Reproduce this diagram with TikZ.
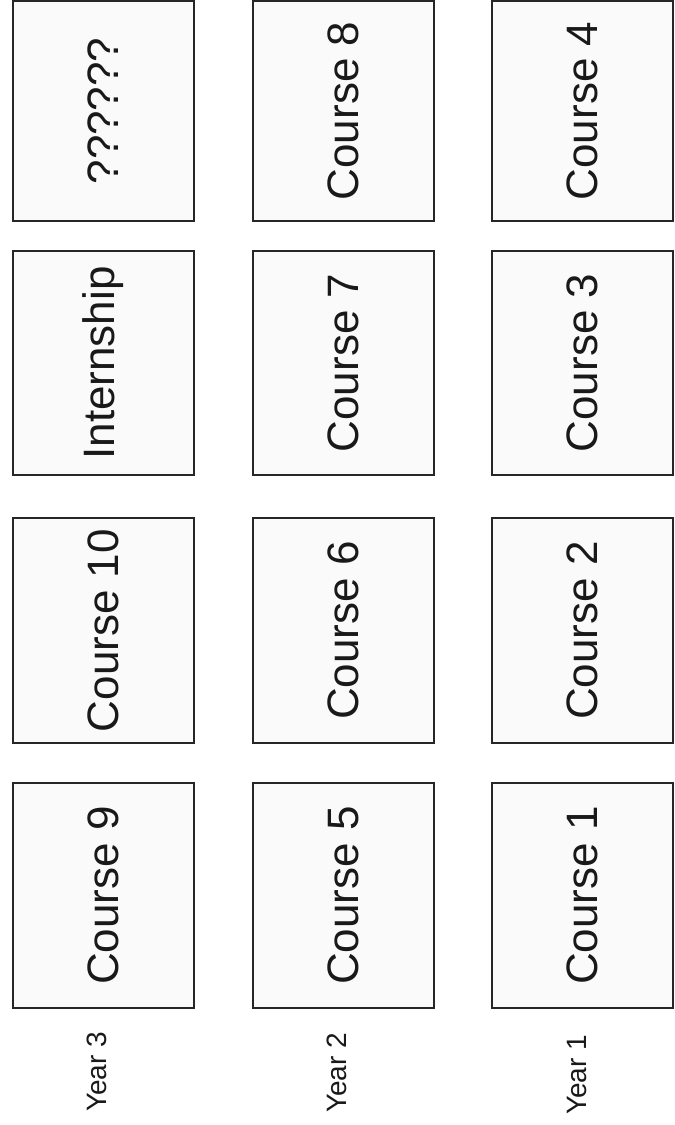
\documentclass[tikz,border=0pt]{standalone}
\usepackage{fontspec}
\setmainfont{Liberation Sans}
\begin{document}
\begin{tikzpicture}[x=1pt,y=-1pt,
  course/.style={draw=black!85, line width=2pt, fill=black!2, rotate=90, inner sep=0pt,
    minimum height=181pt, font=\fontsize{44}{50}\selectfont, text=black!90},
  yearlbl/.style={rotate=90, inner sep=0pt, font=\fontsize{28}{32}\selectfont, text=black!90}]
\useasboundingbox (0,0) rectangle (675,1125);
\fill[white] (0,0) rectangle (675,1125);
% top row (y 1 .. 221)
\node[course, minimum width=220pt] (q)   at (103,111) {??????};
\node[course, minimum width=220pt] (c8)  at (343,111) {Course 8};
\node[course, minimum width=220pt] (c4)  at (582,111) {Course 4};
% row B (251 .. 475)
\node[course, minimum width=224pt] (int) at (103,363) {Internship};
\node[course, minimum width=224pt] (c7)  at (343,363) {Course 7};
\node[course, minimum width=224pt] (c3)  at (582,363) {Course 3};
% row C (518 .. 743)
\node[course, minimum width=225pt] (c10) at (103,630.5) {Course 10};
\node[course, minimum width=225pt] (c6)  at (343,630.5) {Course 6};
\node[course, minimum width=225pt] (c2)  at (582,630.5) {Course 2};
% row D (783 .. 1008)
\node[course, minimum width=225pt] (c9)  at (103,895.5) {Course 9};
\node[course, minimum width=225pt] (c5)  at (343,895.5) {Course 5};
\node[course, minimum width=225pt] (c1)  at (582,895.5) {Course 1};
% year labels
\node[yearlbl] (y3) at (97,1072) {Year 3};
\node[yearlbl] (y2) at (337,1073) {Year 2};
\node[yearlbl] (y1) at (577,1075) {Year 1};
\end{tikzpicture}
\end{document}
